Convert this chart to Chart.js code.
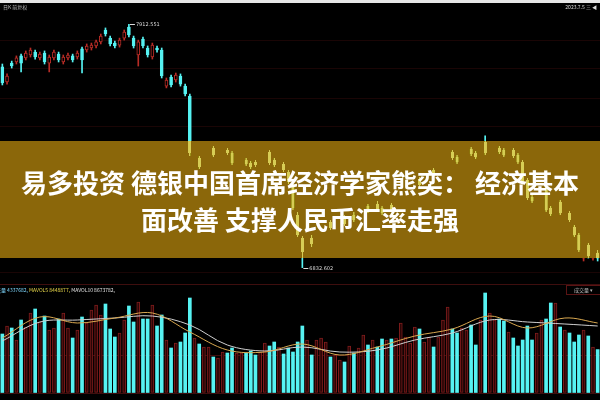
<!DOCTYPE html>
<html>
<head>
<meta charset="utf-8">
<script src="https://cdn.jsdelivr.net/npm/chart.js@4.4.0/dist/chart.umd.min.js"></script>
<style>
  html, body { margin: 0; padding: 0; background: #000; }
  #wrap { position: relative; width: 600px; height: 400px; overflow: hidden; background: #000;
          font-family: "Noto Sans CJK SC", "Noto Sans", sans-serif; }
  #c-precio { position: absolute; left: 0; top: 0; }
  #c-vol { position: absolute; left: 0; top: 284px; }
  .tope { position: absolute; left: 0; top: 0; width: 600px; height: 3px; background: #e6e6e6; }
  .mini { position: absolute; font-size: 5px; line-height: 6px; white-space: nowrap; color: #bbb; }
  .banda { position: absolute; left: 0; top: 141px; width: 600px; height: 117px; }
  .banda-a { background: rgb(150, 140, 20); mix-blend-mode: color; }
  .banda-b { background: rgb(139, 103, 10); mix-blend-mode: lighten; }
  .titulo { display: flex; flex-direction: column; justify-content: center; align-items: center;
            color: #fff; font-weight: 700; font-size: 26px; line-height: 37px; white-space: nowrap; }
  .caja-vol { position: absolute; left: 566px; top: 285px; width: 33px; height: 8px; border: 1px solid #5a1414;
              font-size: 5px; line-height: 8px; color: #bbb; text-align: center; }
</style>
</head>
<body>
<div id="wrap">
  <canvas id="c-precio" width="600" height="284"></canvas>
  <canvas id="c-vol" width="600" height="116"></canvas>
  <div class="tope"></div>
  <div class="mini" style="left:3px;top:4px;">日K 前复权</div>
  <div class="mini" style="right:3px;top:4px;color:#ddd;">2023.7.5 三 ◀</div>
  <div class="mini" style="left:-9px;top:287px;">
    <span style="color:#7fd8ff">成交量 4337682,</span>
    <span style="color:#e8d84a">MAVOL5 8448877,</span>
    <span style="color:#e0e0e0">MAVOL10 8673782,</span>
  </div>
  <div class="caja-vol">成交量 ▾</div>
  <div class="banda banda-a"></div>
  <div class="banda banda-b"></div>
  <div class="banda titulo">
    <div>易多投资 德银中国首席经济学家熊奕：&nbsp;经济基本</div>
    <div>面改善 支撑人民币汇率走强</div>
  </div>
</div>
<script>
// velas diarias (precio)
const apertura = [
  7723, 7656, 7740, 7745, 7772, 7763, 7776, 7789, 7763, 7785,
  7740, 7763, 7780, 7745, 7763, 7772, 7767, 7803, 7798, 7807,
  7816, 7834, 7887, 7851, 7829, 7820, 7851, 7900, 7851, 7776,
  7847, 7807, 7767, 7807, 7798, 7638, 7678, 7665, 7683, 7638,
  7594, 7319, 7319, 7328, 7332, 7363, 7346, 7341, 7354, 7341,
  7301, 7297, 7310, 7297, 7301, 7283, 7328, 7346, 7310, 7275,
  7292, 7257, 7195, 7066, 6964, 6911, 6964, 6942, 6977, 7000,
  7035, 7008, 7026, 7057, 7031, 7066, 7048, 7071, 7106, 7084,
  7115, 7097, 7079, 7111, 7093, 7119, 7146, 7168, 7190, 7226,
  7204, 7230, 7266, 7244, 7279, 7310, 7346, 7323, 7306, 7332,
  7359, 7341, 7328, 7390, 7341, 7359, 7363, 7354, 7332, 7354,
  7332, 7301, 7221, 7146, 7124, 7150, 7190, 7097, 7071, 7124,
  7066, 7075, 7013, 6977, 6875, 6933, 6875, 6898
];
const cierre = [
  7652, 7683, 7727, 7763, 7740, 7785, 7798, 7767, 7780, 7745,
  7767, 7789, 7754, 7767, 7776, 7754, 7785, 7754, 7816, 7820,
  7834, 7860, 7869, 7825, 7816, 7842, 7878, 7865, 7816, 7834,
  7816, 7776, 7820, 7798, 7683, 7665, 7643, 7687, 7647, 7603,
  7341, 7346, 7279, 7350, 7354, 7332, 7363, 7354, 7341, 7297,
  7319, 7310, 7292, 7279, 7288, 7310, 7346, 7297, 7288, 7297,
  7266, 7213, 7097, 6977, 6902, 6955, 6938, 6982, 7008, 7026,
  7008, 7031, 7048, 7026, 7062, 7044, 7075, 7102, 7084, 7111,
  7093, 7075, 7106, 7088, 7124, 7150, 7173, 7195, 7221, 7199,
  7235, 7261, 7239, 7279, 7315, 7346, 7319, 7301, 7337, 7354,
  7337, 7323, 7359, 7341, 7377, 7381, 7346, 7332, 7354, 7328,
  7301, 7213, 7142, 7128, 7155, 7182, 7088, 7071, 7106, 7075,
  7088, 7044, 6977, 6911, 6902, 6884, 6893, 6875
];
const maximo = [
  7736, 7692, 7749, 7772, 7780, 7794, 7807, 7798, 7789, 7794,
  7776, 7798, 7789, 7776, 7785, 7780, 7794, 7811, 7825, 7829,
  7842, 7869, 7896, 7860, 7838, 7851, 7887, 7912.551, 7860, 7842,
  7856, 7816, 7829, 7816, 7807, 7674, 7687, 7696, 7692, 7647,
  7603, 7354, 7328, 7359, 7363, 7372, 7372, 7363, 7363, 7350,
  7328, 7319, 7319, 7306, 7310, 7319, 7354, 7354, 7319, 7306,
  7301, 7266, 7204, 7079, 6973, 6973, 6977, 6995, 7022, 7040,
  7044, 7040, 7062, 7066, 7075, 7079, 7088, 7111, 7115, 7119,
  7128, 7106, 7115, 7119, 7133, 7159, 7182, 7204, 7230, 7235,
  7244, 7270, 7275, 7288, 7323, 7354, 7354, 7332, 7346, 7363,
  7368, 7350, 7368, 7417, 7386, 7390, 7372, 7363, 7363, 7363,
  7341, 7310, 7230, 7155, 7164, 7190, 7199, 7106, 7115, 7133,
  7097, 7084, 7022, 6986, 6911, 6942, 6906, 6911
];
const minimo = [
  7643, 7647, 7718, 7736, 7701, 7754, 7767, 7758, 7754, 7736,
  7701, 7754, 7745, 7736, 7754, 7745, 7758, 7696, 7789, 7798,
  7807, 7825, 7860, 7816, 7807, 7811, 7842, 7856, 7807, 7727,
  7807, 7767, 7758, 7789, 7674, 7630, 7634, 7656, 7638, 7594,
  7328, 7310, 7270, 7319, 7323, 7323, 7337, 7332, 7332, 7288,
  7292, 7288, 7283, 7270, 7279, 7275, 7319, 7288, 7279, 7266,
  7257, 7204, 7088, 6969, 6832.602, 6893, 6924, 6929, 6964, 6991,
  7000, 7000, 7017, 7017, 7022, 7035, 7040, 7062, 7075, 7075,
  7084, 7066, 7071, 7079, 7084, 7111, 7137, 7159, 7182, 7190,
  7195, 7221, 7230, 7235, 7270, 7301, 7310, 7292, 7297, 7323,
  7328, 7315, 7319, 7332, 7332, 7350, 7337, 7323, 7323, 7319,
  7292, 7204, 7133, 7119, 7115, 7142, 7079, 7062, 7062, 7066,
  7057, 7035, 6969, 6902, 6862, 6875, 6866, 6862
];

// volumen en 万
const volumen = [
  590, 670, 650, 530, 730, 660, 800, 840, 710, 770,
  630, 650, 740, 800, 650, 550, 630, 760, 700, 830,
  880, 780, 890, 640, 560, 600, 730, 870, 710, 910,
  740, 740, 880, 670, 780, 530, 450, 500, 510, 600,
  950, 550, 490, 460, 460, 360, 350, 410, 400, 450,
  400, 400, 400, 420, 380, 410, 500, 470, 510, 460,
  390, 450, 410, 510, 670, 530, 380, 530, 550, 510,
  360, 380, 330, 310, 470, 400, 450, 580, 480, 530,
  460, 540, 530, 540, 550, 700, 560, 500, 660, 640,
  510, 560, 460, 560, 730, 860, 640, 600, 650, 630,
  680, 480, 730, 1000, 800, 730, 740, 720, 610, 550,
  470, 530, 670, 530, 600, 730, 740, 900, 900, 660,
  630, 600, 510, 580, 630, 570, 460, 434
];

const maDias = [0, 8, 16, 24, 32, 40, 48, 56, 64, 72, 80, 88, 96, 104, 112, 120, 127];
const mavol5 = [550, 760, 700, 750, 800, 610, 430, 410, 490, 380, 460, 570, 640, 770, 650, 750, 700];
const mavol10 = [520, 710, 730, 750, 770, 680, 480, 420, 460, 410, 430, 530, 600, 730, 710, 690, 670];

// lineas de fondo
const gridPrecio = [7842, 7714, 7585, 7457, 7328, 7199, 7071, 6942, 6813];
const gridVol = [0, 380, 1080];

const dias = apertura.map((_, i) => i);
const sube = apertura.map((o, i) => cierre[i] >= o);

const ROJO = '#b82c26';
const CIAN = '#56f2f2';

const colorVela = sube.map(s => s ? ROJO : CIAN);
const rellenoVela = sube.map(s => s ? '#000' : CIAN);
const cuerpos = apertura.map((o, i) => [o, cierre[i]]);
const mechas = minimo.map((l, i) => [l, maximo[i]]);

// etiquetas de maximo y minimo
const etiquetasExtremos = {
  id: 'extremos',
  afterDatasetsDraw(chart) {
    const { ctx, scales } = chart;
    const iMax = maximo.indexOf(Math.max(...maximo));
    const iMin = minimo.indexOf(Math.min(...minimo));
    ctx.save();
    ctx.font = '5px "DejaVu Sans", sans-serif';
    ctx.fillStyle = '#ddd';
    ctx.strokeStyle = '#ddd';
    ctx.lineWidth = 1;
    ctx.textBaseline = 'middle';
    [[iMax, maximo[iMax]], [iMin, minimo[iMin]]].forEach(([i, v]) => {
      const x = scales.x.getPixelForValue(i);
      const y = Math.round(scales.y.getPixelForValue(v)) + 0.5;
      ctx.beginPath();
      ctx.moveTo(x + 1, y);
      ctx.lineTo(x + 6, y);
      ctx.stroke();
      ctx.fillText(v.toFixed(3), x + 7, y);
    });
    ctx.restore();
  }
};

new Chart(document.getElementById('c-precio'), {
  type: 'bar',
  data: {
    labels: dias,
    datasets: [
      { data: mechas, backgroundColor: colorVela, borderWidth: 0, barThickness: 1, grouped: false, order: 2 },
      { data: cuerpos, backgroundColor: rellenoVela, borderColor: colorVela, borderWidth: 1,
        borderSkipped: false, barThickness: 3, grouped: false, order: 1 }
    ]
  },
  options: {
    responsive: false,
    animation: false,
    devicePixelRatio: 1,
    layout: { padding: 0 },
    plugins: { legend: { display: false }, tooltip: { enabled: false } },
    scales: {
      x: { display: false },
      y: {
        min: 6760, max: 8020,
        ticks: { display: false },
        border: { display: false },
        grid: { color: '#1a0505', drawTicks: false },
        afterBuildTicks: ax => { ax.ticks = gridPrecio.map(v => ({ value: v })); }
      }
    }
  },
  plugins: [etiquetasExtremos]
});

new Chart(document.getElementById('c-vol'), {
  type: 'bar',
  data: {
    labels: dias,
    datasets: [
      { type: 'line', data: maDias.map((d, k) => ({ x: d, y: mavol5[k] })), borderColor: '#d9a850',
        borderWidth: 1, pointRadius: 0, tension: 0.35, order: 0 },
      { type: 'line', data: maDias.map((d, k) => ({ x: d, y: mavol10[k] })), borderColor: '#cfcfcf',
        borderWidth: 1, pointRadius: 0, tension: 0.35, order: 0 },
      { data: volumen, backgroundColor: sube.map(s => s ? '#2a0606' : CIAN),
        borderColor: sube.map(s => s ? '#7e1c1c' : CIAN), borderWidth: sube.map(s => s ? 1 : 0),
        borderSkipped: false, barThickness: 3, order: 1 }
    ]
  },
  options: {
    responsive: false,
    animation: false,
    devicePixelRatio: 1,
    layout: { padding: { top: 0, bottom: 7, left: 0, right: 0 } },
    plugins: { legend: { display: false }, tooltip: { enabled: false } },
    scales: {
      x: { display: false },
      y: {
        min: 0, max: 1090,
        ticks: { display: false },
        border: { display: false },
        grid: { color: '#3e0e0e', drawTicks: false },
        afterBuildTicks: ax => { ax.ticks = gridVol.map(v => ({ value: v })); }
      }
    }
  }
});
</script>
</body>
</html>
